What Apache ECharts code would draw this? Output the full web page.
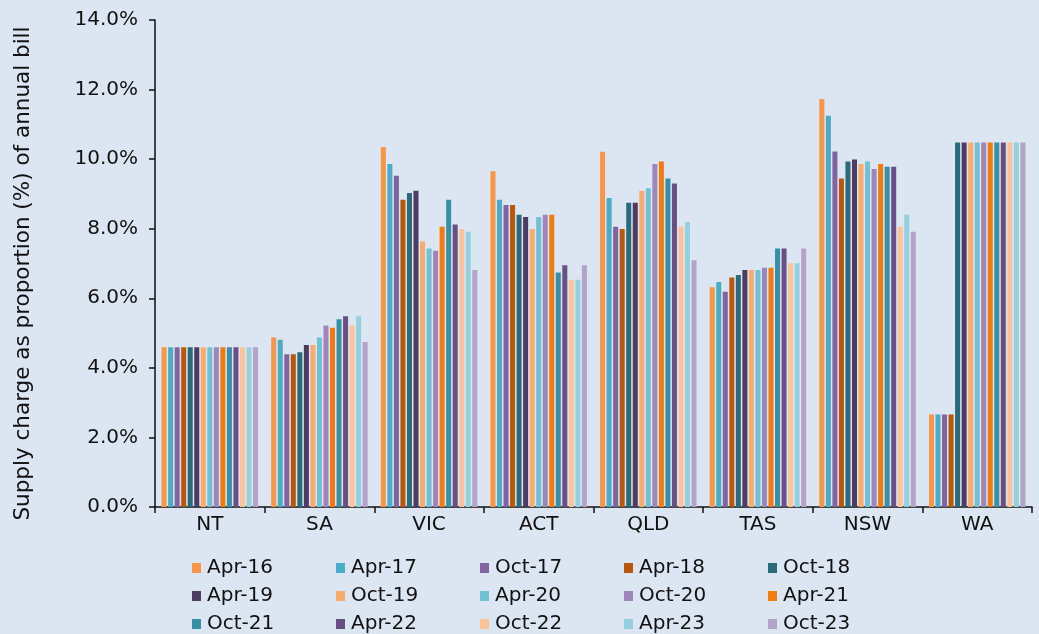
<!DOCTYPE html>
<html>
<head>
<meta charset="utf-8">
<style>
  html, body { margin: 0; padding: 0; background: #dce6f2; }
  #chart { width: 1039px; height: 634px; }
</style>
<script src="https://cdn.jsdelivr.net/npm/echarts@6/dist/echarts.min.js"></script>
</head>
<body>
<div id="chart"></div>
<script>
// states along the x axis
const states = ['NT', 'SA', 'VIC', 'ACT', 'QLD', 'TAS', 'NSW', 'WA'];

// survey periods, one series each
const periods = ['Apr-16', 'Apr-17', 'Oct-17', 'Apr-18', 'Oct-18', 'Apr-19', 'Oct-19', 'Apr-20',
                 'Oct-20', 'Apr-21', 'Oct-21', 'Apr-22', 'Oct-22', 'Apr-23', 'Oct-23'];

// supply charge share (%) per period, values in state order
const apr16 = [4.59, 4.87, 10.35, 9.65, 10.21, 6.32, 11.73, 2.66];
const apr17 = [4.59, 4.81, 9.86, 8.83, 8.88, 6.47, 11.25, 2.66];
const oct17 = [4.59, 4.39, 9.52, 8.68, 8.06, 6.19, 10.22, 2.66];
const apr18 = [4.59, 4.39, 8.83, 8.68, 7.99, 6.60, 9.44, 2.66];
const oct18 = [4.59, 4.45, 9.03, 8.40, 8.75, 6.67, 9.93, 10.48];
const apr19 = [4.59, 4.66, 9.09, 8.34, 8.75, 6.81, 9.99, 10.48];
const oct19 = [4.59, 4.66, 7.63, 7.99, 9.09, 6.81, 9.86, 10.48];
const apr20 = [4.59, 4.87, 7.43, 8.34, 9.16, 6.81, 9.93, 10.48];
const oct20 = [4.59, 5.22, 7.37, 8.40, 9.86, 6.88, 9.72, 10.48];
const apr21 = [4.59, 5.15, 8.06, 8.40, 9.93, 6.88, 9.86, 10.48];
const oct21 = [4.59, 5.40, 8.83, 6.74, 9.44, 7.43, 9.78, 10.48];
const apr22 = [4.59, 5.48, 8.12, 6.95, 9.30, 7.43, 9.78, 10.48];
const oct22 = [4.59, 5.22, 7.99, 6.53, 8.06, 7.01, 8.06, 10.48];
const apr23 = [4.59, 5.48, 7.91, 6.53, 8.19, 7.01, 8.40, 10.48];
const oct23 = [4.59, 4.74, 6.81, 6.95, 7.09, 7.43, 7.91, 10.48];

const values = [apr16, apr17, oct17, apr18, oct18, apr19, oct19, apr20,
                oct20, apr21, oct21, apr22, oct22, apr23, oct23];

// y axis ticks
const yTicks = [0, 2, 4, 6, 8, 10, 12, 14];

const colors = ['#f79646', '#4bacc6', '#8064a2', '#b8580a', '#2b6a7b', '#4d3b62', '#f9ab6e', '#72c0d3',
                '#9c86ba', '#f37a0c', '#3890a8', '#685085', '#fbc39a', '#96d0df', '#b3a3c8'];

const font = 'DejaVu Sans, sans-serif';
const ink = '#111';

var chart = echarts.init(document.getElementById('chart'));

// legend: one small legend per item so the 5 columns line up like the original
var rowTops = [558, 586, 614];
var legends = periods.map(function (p, i) {
    return {
        left: 192 + (i % 5) * 144,
        top: rowTops[Math.floor(i / 5)],
        padding: 0,
        itemWidth: 9,
        itemHeight: 10,
        icon: 'rect',
        data: [p],
        textStyle: { fontFamily: font, fontSize: 20, color: ink, padding: [0, 0, 0, 1] }
    };
});

chart.setOption({
    backgroundColor: '#dce6f2',
    animation: false,
    color: colors,
    legend: legends,
    grid: { left: 155, right: 7, top: 20, bottom: 127 },
    xAxis: {
        type: 'category',
        data: states,
        axisLine: { lineStyle: { color: ink, width: 1.5 } },
        axisTick: { show: true, length: 6, lineStyle: { color: ink, width: 1.5 } },
        axisLabel: { fontFamily: font, fontSize: 20, color: ink, margin: 8 }
    },
    yAxis: {
        type: 'value',
        min: yTicks[0],
        max: yTicks[yTicks.length - 1],
        interval: 2,
        name: 'Supply charge as proportion (%) of annual bill',
        nameLocation: 'middle',
        nameGap: 121,
        nameTextStyle: { fontFamily: font, fontSize: 21.5, color: ink, padding: [0, 20, 0, 0] },
        splitLine: { show: false },
        axisLine: { show: true, lineStyle: { color: ink, width: 1.5 } },
        axisTick: { show: true, length: 6, lineStyle: { color: ink, width: 1.5 } },
        axisLabel: {
            fontFamily: font, fontSize: 20, color: ink, margin: 17,
            formatter: function (v) { return v.toFixed(1) + '%'; }
        }
    },
    series: periods.map(function (p, i) {
        return {
            name: p,
            type: 'bar',
            data: values[i],
            barGap: '30%',
            barCategoryGap: '12%'
        };
    })
});
</script>
</body>
</html>
